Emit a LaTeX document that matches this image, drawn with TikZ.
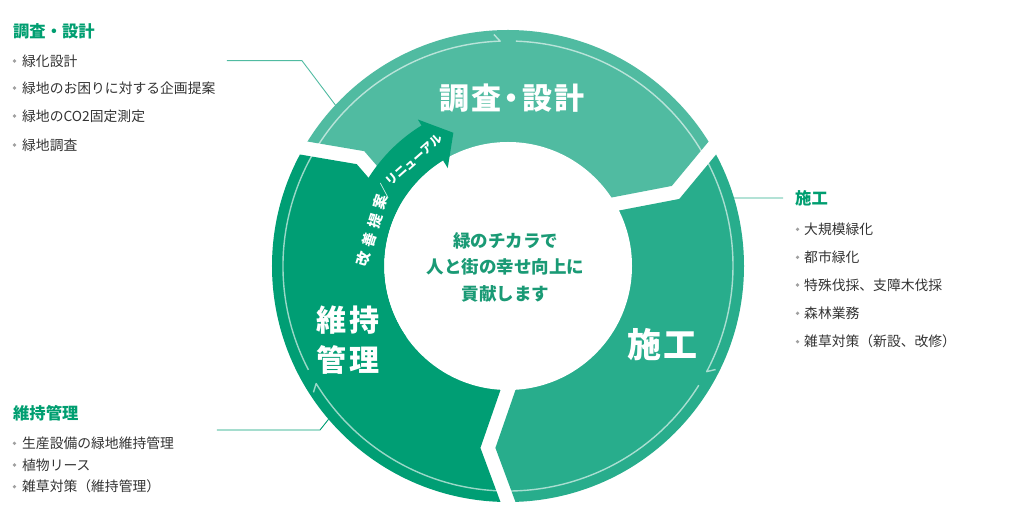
\documentclass[tikz,border=0pt]{standalone}
\usepackage{fontspec}
\setmainfont{Noto Sans CJK JP}
\usetikzlibrary{calc}
\definecolor{segtop}{RGB}{80,187,161}
\definecolor{segrgt}{RGB}{40,173,140}
\definecolor{seglft}{RGB}{0,158,116}
\definecolor{grn}{RGB}{0,158,112}
\definecolor{midgrn}{RGB}{26,154,117}
\definecolor{txt}{RGB}{51,51,51}
\definecolor{bulgray}{RGB}{160,160,160}

\begin{document}
\begin{tikzpicture}[x=1pt,y=1pt,
  hd/.style={anchor=west,inner sep=0,text=grn,font=\bfseries\fontsize{16.3}{18}\selectfont},
  item/.style={anchor=west,inner sep=0,text=txt,font=\fontsize{13.8}{16}\selectfont},
  bul/.style={fill=bulgray},
  seg/.style={text=white,inner sep=0,align=center,font=\bfseries\fontsize{30}{40}\selectfont},
  mid/.style={text=midgrn,inner sep=0,align=center,font=\bfseries\fontsize{17.5}{26.5}\selectfont},
  arr/.style={text=white,inner sep=0,font=\bfseries\fontsize{14.5}{14.5}\selectfont},
  thinring/.style={white,opacity=.6,line width=1.4pt,line join=round},
  lead/.style={line width=.9pt}]
\useasboundingbox (-508,-266) rectangle (508,266);
\coordinate (c) at (0,0);
\foreach \g/\n in {30/r,150/l,270/b} {
  \coordinate (k\n) at (\g-6.3:183);
  \coordinate (o\n) at ($(k\n)!1.6!(\g:236)$);
  \coordinate (i\n) at ($(k\n)!1.45!(\g:124)$);
}
\begin{scope}
\clip (c) circle (236);
\fill[segtop] ($(il)+(60:7.5)$) -- ($(kl)+(60:7.5)$) -- ($(ol)+(60:7.5)$) -- (90:400)
  -- ($(or)+(120:7.5)$) -- ($(kr)+(120:7.5)$) -- ($(ir)+(120:7.5)$) -- cycle;
\fill[segrgt] ($(ir)+(-60:7.5)$) -- ($(kr)+(-60:7.5)$) -- ($(or)+(-60:7.5)$) -- (-30:400)
  -- ($(ob)+(0:7.5)$) -- ($(kb)+(0:7.5)$) -- ($(ib)+(0:7.5)$) -- cycle;
\fill[seglft] ($(ib)+(180:7.5)$) -- ($(kb)+(180:7.5)$) -- ($(ob)+(180:7.5)$) -- (210:400)
  -- ($(ol)+(240:7.5)$) -- ($(kl)+(240:7.5)$) -- ($(il)+(240:7.5)$) -- cycle;
\end{scope}
\fill[white] (c) circle (124);

\draw[thinring] (88:225) arc[start angle=88,end angle=-28,radius=225] -- (-26.5:232);
\draw[thinring] (-32:225) arc[start angle=-32,end angle=-148.5,radius=225] -- (-147:232);
\draw[thinring] (207.5:225) arc[start angle=207.5,end angle=92,radius=225] -- (93.5:232);

\fill[seglft] (215:165) arc[start angle=215,end angle=121.6,radius=165] -- (121.6:172)
  -- (112.3:144) -- (121.6:115) -- (121.6:124) arc[start angle=121.6,end angle=215,radius=124] -- cycle;
\node[arr,rotate=73] (t1) at (163:140.5) {改\kern5.5pt善\kern5.5pt提\kern5.5pt案\kern-2pt{\fontsize{13}{13}\selectfont／}};
\node[arr,rotate=41.5,font=\bfseries\fontsize{12}{12}\selectfont] (t2) at (131.5:141.5) {リニューアル};

\node[seg] (s1) at (3.7,167.5) {調\kern2pt査\kern-4.5pt・\kern-4.5pt設\kern2pt計};
\node[seg,font=\bfseries\fontsize{34}{40}\selectfont] (s2) at (154.5,-79) {施\kern3pt工};
\node[seg] (s3) at (-160,-74) {維\kern3pt持\\管\kern3pt理};
\node[mid] (m) at (-2.5,-1) {緑のチカラで\\人と街の幸せ向上に\\貢献します};

\node[hd] (h1) at (-495,235) {調査・設計};
\foreach \t/\y [count=\i] in {緑化設計/205,緑地のお困りに対する企画提案/178,緑地のCO2固定測定/150,緑地調査/121} {
  \node[item] (a\i) at (-486,\y) {\t};
  \fill[bul] (-493.5,\y) circle (1.8);
}
\node[hd] (h2) at (287,68) {施工};
\foreach \t/\y [count=\i] in {大規模緑化/36.7,都市緑化/8.7,特殊伐採、支障木伐採/-19,森林業務/-47.3,雑草対策（新設、改修）/-75.7} {
  \node[item] (b\i) at (296,\y) {\t};
  \fill[bul] (289.5,\y) circle (1.8);
}
\node[hd] (h3) at (-495,-147.3) {維持管理};
\foreach \t/\y [count=\i] in {生産設備の緑地維持管理/-177.3,植物リース/-199,雑草対策（維持管理）/-220.7} {
  \node[item] (d\i) at (-486,\y) {\t};
  \fill[bul] (-493.5,\y) circle (1.8);
}

\coordinate (p1) at (-281,205.3);
\coordinate (q1) at (137:236);
\draw[lead,segtop] (p1) -- (-206,205.3) -- (q1);
\coordinate (q2) at (16.75:236);
\draw[lead,segrgt] (q2) -- ([xshift=-12pt]h2.west);
\coordinate (p3) at (-291,-164);
\coordinate (q3) at (220.5:236);
\draw[lead,seglft] (p3) -- (-188,-164) -- (q3);
\end{tikzpicture}
\end{document}
